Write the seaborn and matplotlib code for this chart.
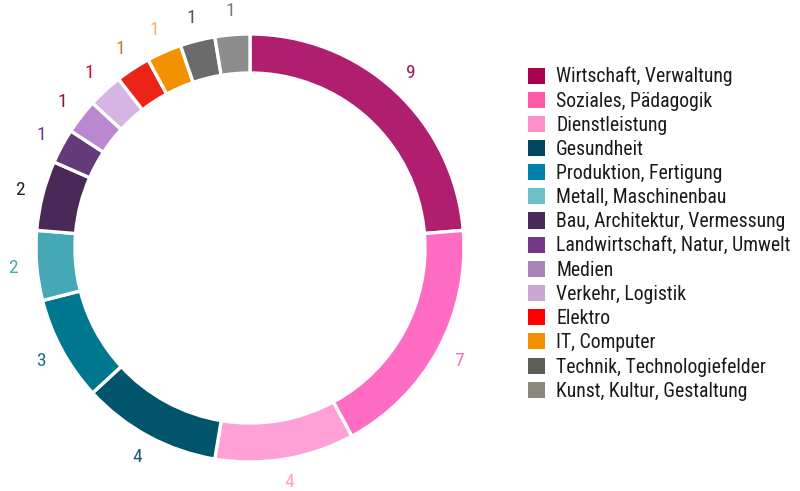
import matplotlib
matplotlib.use("Agg")
import matplotlib.pyplot as plt
from matplotlib import font_manager
from matplotlib.patches import Patch
import numpy as np
import seaborn as sns

categories = ["Wirtschaft, Verwaltung", "Soziales, Pädagogik", "Dienstleistung",
              "Gesundheit", "Produktion, Fertigung", "Metall, Maschinenbau",
              "Bau, Architektur, Vermessung", "Landwirtschaft, Natur, Umwelt",
              "Medien", "Verkehr, Logistik", "Elektro", "IT, Computer",
              "Technik, Technologiefelder", "Kunst, Kultur, Gestaltung"]
values = [9, 7, 4, 4, 3, 2, 2, 1, 1, 1, 1, 1, 1, 1]
slice_colors = ["#b01e70", "#ff6cc4", "#ffa1d7", "#00546b", "#00778f", "#46a8b6",
                "#4a2857", "#653a7b", "#ba88cf", "#d6b5e3", "#ec2418", "#f39200",
                "#6b6b6b", "#8d8d8d"]
legend_colors = ["#a8004f", "#ff5aa8", "#ff90c8", "#00465e", "#0080a8", "#6cc0c8",
                 "#4a2a5a", "#74388a", "#a884b8", "#c8a8d0", "#ff0000", "#f39200",
                 "#5e5e56", "#8a887c"]
label_colors = ["#a3195b", "#ff6cc4", "#ffa1d7", "#1e5a70", "#1d6e8a", "#46a8b6",
                "#222222", "#6a3d82", "#8c1c2c", "#c8102e", "#c87a28", "#ffb066",
                "#555555", "#7a7a7a"]

sns.set_style("white")
avail = {f.name for f in font_manager.fontManager.ttflist}
fam = "DejaVu Sans"
for cand in ["Roboto Condensed", "Archivo Narrow", "Asap Condensed", "Barlow Semi Condensed"]:
    if cand in avail:
        fam = cand
        break
plt.rcParams["font.family"] = [fam, "DejaVu Sans"]

W, H = 800, 491
fig = plt.figure(figsize=(W / 100, H / 100), dpi=100)
fig.patch.set_facecolor("white")

R = 214.0
cx, cy = 250.0, 243.0  # pixel center (from bottom)
ax = fig.add_axes([0, 0, 500 / W, 1])
wedges, _ = ax.pie(values, colors=sns.color_palette(slice_colors), startangle=90,
                   counterclock=False, radius=1.0,
                   wedgeprops=dict(width=39 / R, edgecolor="white", linewidth=2.4))
ax.set_xlim(-cx / R, (500 - cx) / R)
ax.set_ylim(-cy / R, (H - cy) / R)
ax.set_aspect("auto")
ax.axis("off")

total = sum(values)
cum = 0
for v, c in zip(values, label_colors):
    mid = 90 - (cum + v / 2) / total * 360
    cum += v
    rr = 1.11
    ax.text(rr * np.cos(np.radians(mid)), rr * np.sin(np.radians(mid)), str(v),
            color=c, fontsize=14, ha="center", va="center")

handles = [Patch(facecolor=c, edgecolor="none") for c in legend_colors]
fig.legend(handles, categories, loc="upper left",
           bbox_to_anchor=(528 / W, 1 - 67 / H), frameon=False, fontsize=14.2,
           handlelength=0.88, handleheight=0.88, handletextpad=0.55,
           labelspacing=0.26, borderpad=0, borderaxespad=0, labelcolor="#1a1a1a")

fig.savefig("out.png", dpi=100, facecolor="white")
